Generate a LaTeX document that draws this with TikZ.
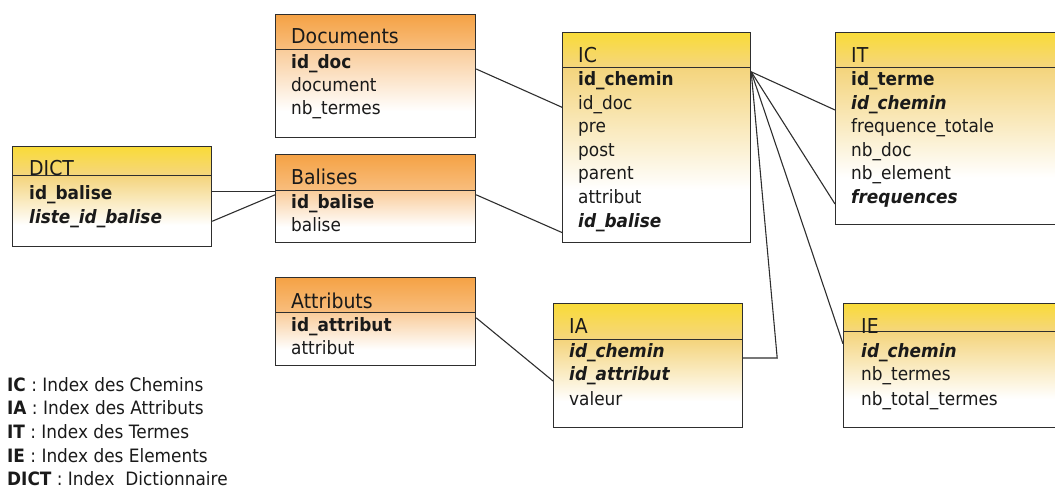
\documentclass[tikz,border=0pt]{standalone}
\usepackage{fontspec}
\setmainfont{DejaVu Sans}[FakeStretch=0.92]
\usepackage{tikz}
\definecolor{TBorder}{HTML}{2E2E2E}
\definecolor{TText}{HTML}{1A1A1A}
\definecolor{OHeadTop}{HTML}{F5A245}
\definecolor{OHeadBot}{HTML}{F8BE7E}
\definecolor{OBodyTop}{HTML}{F9CC9A}
\definecolor{YHeadTop}{HTML}{F9DB38}
\definecolor{YHeadBot}{HTML}{F5D67E}
\definecolor{YBodyTop}{HTML}{F4D47C}
\pgfdeclareverticalshading{obodyshade}{100bp}{color(0bp)=(white); color(25bp)=(white);
  color(40bp)=(white); color(75bp)=(OBodyTop); color(100bp)=(OBodyTop)}
\pgfdeclareverticalshading{ybodyshade}{100bp}{color(0bp)=(white); color(25bp)=(white);
  color(40bp)=(white); color(75bp)=(YBodyTop); color(100bp)=(YBodyTop)}

\begin{document}
\begin{tikzpicture}[
  x=1bp,y=-1bp,
  every node/.style={text=TText},
  tab/.style={draw=TBorder,line width=1.2bp,inner sep=0pt,anchor=north west},
  ohead/.style={tab,top color=OHeadTop,bottom color=OHeadBot},
  yhead/.style={tab,top color=YHeadTop,bottom color=YHeadBot},
  obody/.style={tab,shading=obodyshade},
  ybody/.style={tab,shading=ybodyshade},
  title/.style={anchor=base west,inner sep=0pt,font=\fontsize{20.5bp}{24bp}\selectfont},
  field/.style={anchor=base west,inner sep=0pt,font=\fontsize{18.4bp}{22bp}\selectfont},
  key/.style={field,font=\fontsize{18.4bp}{22bp}\selectfont\bfseries},
  fkey/.style={field,font=\fontsize{18.4bp}{22bp}\selectfont\bfseries\itshape},
  link/.style={draw=TBorder,line width=1.1bp}
]
  \useasboundingbox (0,0) rectangle (1055,488);

  % Documents
  \node[obody,minimum width=200bp,minimum height=88bp] (docs) at (275,49) {};
  \node[ohead,minimum width=200bp,minimum height=35bp] (docsH) at (275,14) {};
  \node[title] (docsT) at (291,44) {Documents};
  \node[key] (docsId) at (291,69) {id\_doc};
  \node[field] (docsDoc) at (291,92) {document};
  \node[field] (docsNb) at (291,115) {nb\_termes};

  % DICT
  \node[ybody,minimum width=199bp,minimum height=71bp] (dict) at (12,175) {};
  \node[yhead,minimum width=199bp,minimum height=29bp] (dictH) at (12,146) {};
  \node[title] (dictT) at (29,176) {DICT};
  \node[key] (dictId) at (29,200) {id\_balise};
  \node[fkey] (dictList) at (29,224) {liste\_id\_balise};

  % Balises
  \node[obody,minimum width=200bp,minimum height=52bp] (bal) at (275,190) {};
  \node[ohead,minimum width=200bp,minimum height=36bp] (balH) at (275,154) {};
  \node[title] (balT) at (291,185) {Balises};
  \node[key] (balId) at (291,209) {id\_balise};
  \node[field] (balName) at (291,232) {balise};

  % Attributs
  \node[obody,minimum width=200bp,minimum height=53bp] (attr) at (275,312) {};
  \node[ohead,minimum width=200bp,minimum height=35bp] (attrH) at (275,277) {};
  \node[title] (attrT) at (291,309) {Attributs};
  \node[key] (attrId) at (291,332) {id\_attribut};
  \node[field] (attrName) at (291,355) {attribut};

  % IC
  \node[ybody,minimum width=188bp,minimum height=175bp] (ic) at (562,67) {};
  \node[yhead,minimum width=188bp,minimum height=35bp] (icH) at (562,32) {};
  \node[title] (icT) at (578,63) {IC};
  \node[key] (icChem) at (578,86) {id\_chemin};
  \node[field] (icDoc) at (578,110) {id\_doc};
  \node[field] (icPre) at (578,133) {pre};
  \node[field] (icPost) at (578,157) {post};
  \node[field] (icParent) at (578,180) {parent};
  \node[field] (icAttr) at (578,204) {attribut};
  \node[fkey] (icBal) at (578,228) {id\_balise};

  % IT
  \node[ybody,minimum width=230bp,minimum height=157bp] (it) at (835,67) {};
  \node[yhead,minimum width=230bp,minimum height=35bp] (itH) at (835,32) {};
  \node[title] (itT) at (851,63) {IT};
  \node[key] (itTerme) at (851,86) {id\_terme};
  \node[fkey] (itChem) at (851,110) {id\_chemin};
  \node[field] (itFreqTot) at (851,133) {frequence\_totale};
  \node[field] (itNbDoc) at (851,157) {nb\_doc};
  \node[field] (itNbElem) at (851,180) {nb\_element};
  \node[fkey] (itFreqs) at (851,204) {frequences};

  % IA
  \node[ybody,minimum width=189bp,minimum height=88bp] (ia) at (553,339) {};
  \node[yhead,minimum width=189bp,minimum height=36bp] (iaH) at (553,303) {};
  \node[title] (iaT) at (569,334) {IA};
  \node[fkey] (iaChem) at (569,358) {id\_chemin};
  \node[fkey] (iaAttr) at (569,381) {id\_attribut};
  \node[field] (iaVal) at (569,405) {valeur};

  % IE
  \node[ybody,minimum width=222bp,minimum height=96bp] (ie) at (843,331) {};
  \node[yhead,minimum width=222bp,minimum height=28bp] (ieH) at (843,303) {};
  \node[title] (ieT) at (861,334) {IE};
  \node[fkey] (ieChem) at (861,358) {id\_chemin};
  \node[field] (ieNb) at (861,381) {nb\_termes};
  \node[field] (ieNbTot) at (861,405) {nb\_total\_termes};

  % links
  \draw[link] (balH.south west) -- (balH.south west -| dict.east);
  \draw[link] (dictList.mid -| dict.east) -- (balId.north -| bal.west);
  \draw[link] (docsId.base -| docs.east) -- (icDoc.mid -| ic.west);
  \draw[link] (balId.north -| bal.east) -- (icBal.south -| ic.west);
  \draw[link] (icChem.north -| ic.east) -- (itChem.base -| it.west);
  \draw[link] (icChem.north -| ic.east) -- (itFreqs.base -| it.west);
  \draw[link] (icChem.north -| ic.east) -- (ieChem.north -| ie.west);
  \draw[link] (icChem.north -| ic.east) -- ([xshift=34bp]iaChem.base -| ia.east)
    -- (iaChem.base -| ia.east);
  \draw[link] (attrId.north -| attr.east) -- (iaAttr.base -| ia.west);

  % legend
  \node[field] (legIC) at (7,391) {\textbf{IC} : Index des Chemins};
  \node[field] (legIA) at (7,414.5) {\textbf{IA} : Index des Attributs};
  \node[field] (legIT) at (7,438) {\textbf{IT} : Index des Termes};
  \node[field] (legIE) at (7,462) {\textbf{IE} : Index des Elements};
  \node[field] (legDICT) at (7,485) {\textbf{DICT} : Index~ Dictionnaire};
\end{tikzpicture}
\end{document}
